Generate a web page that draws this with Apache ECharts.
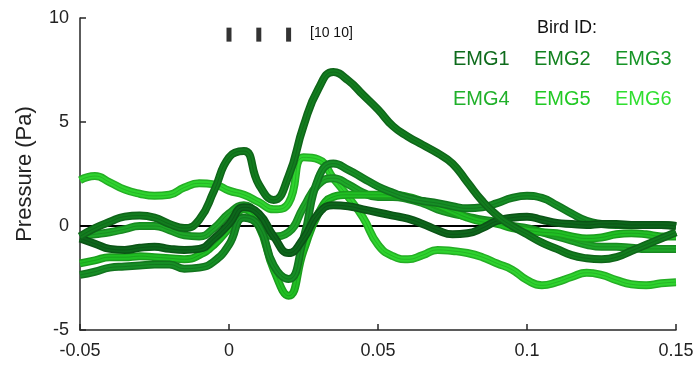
<!DOCTYPE html>
<html>
<head>
<meta charset="utf-8">
<script src="https://cdn.jsdelivr.net/npm/echarts@6/dist/echarts.min.js"></script>
<style>html,body{margin:0;padding:0;background:#fff;}#c{width:699px;height:366px;}</style>
</head>
<body>
<div id="c"></div>
<script>
var xs = [-0.05,-0.045,-0.04,-0.035,-0.03,-0.025,-0.02,-0.015,-0.01,-0.005,0,0.005,0.01,0.015,0.02,0.025,0.03,0.035,0.04,0.045,0.05,0.055,0.06,0.065,0.07,0.075,0.08,0.085,0.09,0.095,0.1,0.105,0.11,0.115,0.12,0.125,0.13,0.135,0.14,0.145,0.15];

var emg1 = [-0.6,-0.85,-1.1,-1.15,-1.05,-1.0,-1.1,-1.15,-1.1,-0.6,0.1,0.9,0.6,-0.5,-1.3,-0.6,0.6,1.0,0.95,0.8,0.65,0.5,0.35,0.1,-0.2,-0.4,-0.35,-0.1,0.25,0.4,0.45,0.3,0.15,0.1,0.05,0.1,0.1,0.05,0.05,0.05,0.0];
var emg2 = [-0.5,-0.1,0.2,0.45,0.5,0.4,0.1,-0.1,0.3,1.7,3.3,3.6,2.0,1.25,2.4,4.8,6.6,7.4,7.0,6.3,5.6,4.8,4.3,3.9,3.5,3.0,2.1,1.2,0.5,0.0,-0.4,-0.8,-1.1,-1.4,-1.55,-1.6,-1.5,-1.2,-0.9,-0.6,-0.3];
var emg3 = [-2.35,-2.2,-2.0,-1.95,-1.9,-1.85,-1.85,-2.05,-2.0,-1.7,-0.9,0.4,0.0,-1.9,-2.55,-0.6,2.3,3.0,2.7,2.3,1.9,1.6,1.35,1.2,1.1,0.95,0.85,0.9,1.1,1.35,1.45,1.35,1.0,0.6,0.25,0.1,0.05,0.05,0.05,0.05,0.0];
var emg4 = [-0.5,-0.4,-0.3,-0.15,0.0,0.0,-0.2,-0.45,-0.5,-0.1,0.6,1.0,0.4,-0.5,-0.3,0.9,2.0,2.3,2.0,1.6,1.4,1.4,1.3,1.1,0.8,0.6,0.45,0.3,0.2,0.0,-0.1,-0.3,-0.5,-0.7,-0.9,-1.0,-1.0,-1.05,-1.1,-1.1,-1.1];
var emg5 = [-1.8,-1.65,-1.5,-1.5,-1.45,-1.5,-1.55,-1.6,-1.4,-0.9,-0.1,0.8,0.0,-2.1,-3.35,-1.2,0.6,1.4,1.5,1.5,1.5,1.5,1.4,1.2,1.0,0.7,0.4,0.2,0.1,-0.1,-0.2,-0.3,-0.35,-0.5,-0.6,-0.55,-0.4,-0.35,-0.4,-0.5,-0.5];
var emg6 = [2.2,2.4,2.1,1.75,1.55,1.45,1.5,1.85,2.05,2.0,1.7,1.5,1.15,0.8,1.1,3.3,3.2,2.3,1.4,0.4,-0.9,-1.45,-1.6,-1.4,-1.15,-1.2,-1.3,-1.5,-1.8,-2.1,-2.6,-2.85,-2.7,-2.45,-2.25,-2.35,-2.6,-2.8,-2.85,-2.75,-2.7];

var seriesNames = ['EMG1','EMG2','EMG3','EMG4','EMG5','EMG6'];
var seriesData = [emg1, emg2, emg3, emg4, emg5, emg6];
var colors = ['#0e6b1c','#138220','#179527','#20b02a','#22c925','#30df30'];

var stimX = [0, 0.01, 0.02];
var stimY = 9.2;
var stimText = '[10 10]';

function shade(hex, f) {
  var r = parseInt(hex.substr(1, 2), 16), g = parseInt(hex.substr(3, 2), 16), b = parseInt(hex.substr(5, 2), 16);
  return 'rgb(' + Math.round(r * f) + ',' + Math.round(g * f) + ',' + Math.round(b * f) + ')';
}

var chart = echarts.init(document.getElementById('c'), null, {renderer: 'canvas'});

var series = [];
var order = [5,3,4,2,0,1];
order.forEach(function (i) {
  var d = xs.map(function (x, k) { return [x, seriesData[i][k]]; });
  series.push({
    name: seriesNames[i] + '_band', type: 'line', data: d, smooth: 0.5, symbol: 'none',
    lineStyle: {width: 8, color: shade(colors[i], 0.78)},
    z: 2, silent: true
  });
  series.push({
    name: seriesNames[i], type: 'line', data: d, smooth: 0.5, symbol: 'none',
    lineStyle: {width: 5, color: shade(colors[i], 0.95)},
    z: 2, silent: true
  });
  series.push({
    name: seriesNames[i] + '_core', type: 'line', data: d, smooth: 0.5, symbol: 'none',
    lineStyle: {width: 1, color: shade(colors[i], 0.75), opacity: 0.7},
    z: 2, silent: true
  });
});
series.push({
  name: 'zero', type: 'line', data: [[xs[0], 0], [xs[xs.length - 1], 0]], symbol: 'none',
  lineStyle: {width: 2, color: '#000'}, z: 1, silent: true
});
series.push({
  name: 'stim', type: 'scatter', data: stimX.map(function (x) { return [x, stimY]; }),
  symbol: 'rect', symbolSize: [5, 14], itemStyle: {color: '#000'}, z: 5, silent: true
});

var legendGraphics = [{
  type: 'text', left: 537, top: 19,
  style: {text: 'Bird ID:', fill: '#111', fontSize: 18, fontFamily: 'Liberation Sans'}
}];
seriesNames.forEach(function (n, i) {
  var col = i % 3, row = Math.floor(i / 3);
  legendGraphics.push({
    type: 'text', left: 453 + col * 81, top: 49 + row * 40,
    style: {text: n, fill: colors[i], fontSize: 20, fontFamily: 'Liberation Sans'}
  });
});
legendGraphics.push({
  type: 'text', left: 310, top: 26,
  style: {text: stimText, fill: '#111', fontSize: 14, fontFamily: 'Liberation Sans'}
});

chart.setOption({
  animation: false,
  backgroundColor: '#fff',
  grid: {left: 80, right: 23, top: 18, bottom: 36, containLabel: false},
  xAxis: {
    type: 'value', min: -0.05, max: 0.15, interval: 0.05,
    axisLine: {show: true, onZero: false, lineStyle: {color: '#262626', width: 1.5}},
    axisTick: {show: true, inside: true, length: 6, lineStyle: {color: '#262626', width: 1.5}},
    splitLine: {show: false},
    axisLabel: {color: '#222', fontSize: 18, margin: 12, fontFamily: 'Liberation Sans',
      formatter: function (v) { return String(Math.round(v * 1000) / 1000); }}
  },
  yAxis: {
    type: 'value', min: -5, max: 10, interval: 5,
    name: 'Pressure (Pa)', nameLocation: 'middle', nameGap: 44,
    nameTextStyle: {color: '#222', fontSize: 22, fontFamily: 'Liberation Sans'},
    axisLine: {show: true, onZero: false, lineStyle: {color: '#262626', width: 1.5}},
    axisTick: {show: true, inside: true, length: 6, lineStyle: {color: '#262626', width: 1.5}},
    splitLine: {show: false},
    axisLabel: {color: '#222', fontSize: 18, margin: 11, fontFamily: 'Liberation Sans'}
  },
  graphic: legendGraphics,
  series: series
});
</script>
</body>
</html>
